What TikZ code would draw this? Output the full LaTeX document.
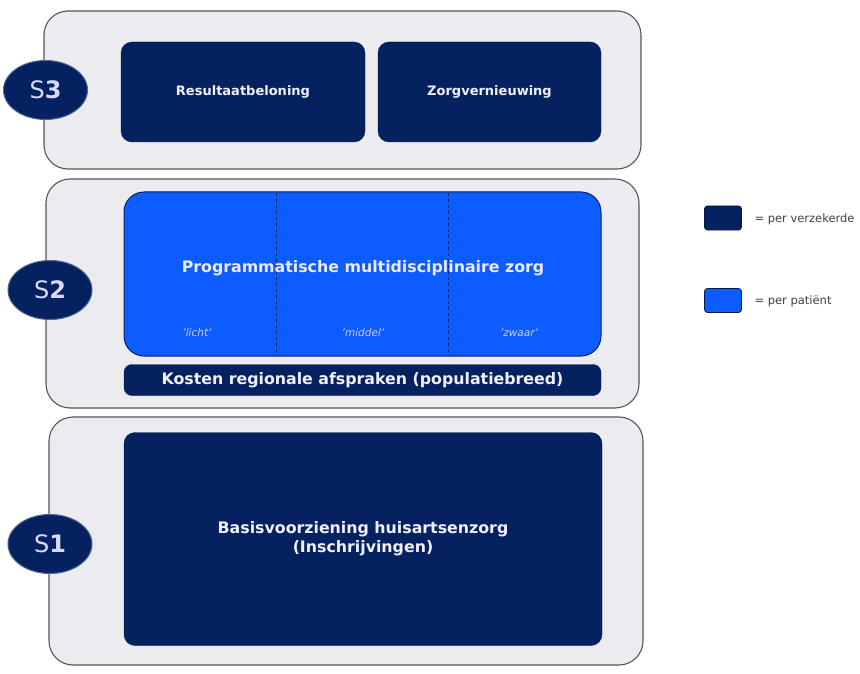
\documentclass[tikz,border=0pt]{standalone}
\usepackage{fontspec}
\setmainfont{DejaVu Sans}
\usetikzlibrary{shapes.geometric}
\definecolor{navy}{RGB}{6,33,96}
\definecolor{brightblue}{RGB}{12,92,255}
\definecolor{panelfill}{RGB}{236,236,240}
\definecolor{panelline}{RGB}{85,85,90}
\tikzset{
  panel/.style={draw=panelline, line width=1.1pt, fill=panelfill, rounded corners=24pt},
  navybox/.style={fill=navy, draw=navy!80!black, rounded corners=11pt, text=white!94!blue, font=\bfseries\fontsize{13}{15}\selectfont, align=center},
  bluebox/.style={fill=brightblue, draw=navy, line width=1pt, rounded corners=20pt},
  stage/.style={ellipse, fill=navy, draw=navy!70!white, line width=1pt, minimum width=84pt, minimum height=59pt, inner sep=0pt, text=white!85!blue, font=\fontsize{24}{26}\selectfont},
  legendbox/.style={draw=navy!70!black, line width=0.8pt, rounded corners=3pt, minimum width=37pt, minimum height=24pt, inner sep=0pt},
  legendtext/.style={anchor=west, font=\fontsize{11.5}{13}\selectfont, text=black!75},
  sublabel/.style={text=white!80!blue, font=\itshape\fontsize{10.5}{12}\selectfont}
}
\begin{document}
\begin{tikzpicture}[x=1pt,y=-1pt]
\useasboundingbox (0,0) rectangle (860,674);
% panels
\draw[panel] (44,11) rectangle (641,169);
\draw[panel] (46,179) rectangle (639,408);
\draw[panel] (49,417) rectangle (643,665);
% S3
\node[navybox, minimum width=244pt, minimum height=100pt] (res) at (243,92) {Resultaatbeloning};
\node[navybox, minimum width=223pt, minimum height=100pt] (zorgv) at (489.5,92) {Zorgvernieuwing};
% S2
\draw[bluebox] (124,192) rectangle (601,356);
\draw[navy, dashed, line width=0.8pt] (276,193) -- (276,355);
\draw[navy, dashed, line width=0.8pt] (448,193) -- (448,355);
\node[text=white!92!blue, font=\bfseries\fontsize{15.8}{18}\selectfont] (progt) at (363,268) {Programmatische multidisciplinaire zorg};
\node[sublabel] (licht) at (197,333) {'licht'};
\node[sublabel] (middel) at (363,333) {'middel'};
\node[sublabel] (zwaar) at (519,333) {'zwaar'};
\node[navybox, rounded corners=8pt, minimum width=477pt, minimum height=31pt, inner sep=0pt, font=\bfseries\fontsize{15.8}{18}\selectfont] (kosten) at (362.5,380) {Kosten regionale afspraken (populatiebreed)};
% S1
\node[navybox, rounded corners=11pt, minimum width=478pt, minimum height=213pt, font=\bfseries\fontsize{15.8}{19}\selectfont] (basis) at (363,539) {Basisvoorziening huisartsenzorg\\(Inschrijvingen)};
% stage markers
\node[stage] (s3) at (45.5,90) {S\textbf{3}};
\node[stage] (s2) at (50,290) {S\textbf{2}};
\node[stage] (s1) at (50,544) {S\textbf{1}};
% legend
\node[legendbox, fill=navy] (lg1) at (723,218) {};
\node[legendtext] (lt1) at (751,219) {= per verzekerde};
\node[legendbox, fill=brightblue] (lg2) at (723,300.5) {};
\node[legendtext] (lt2) at (751,301) {= per patiënt};
\end{tikzpicture}
\end{document}
